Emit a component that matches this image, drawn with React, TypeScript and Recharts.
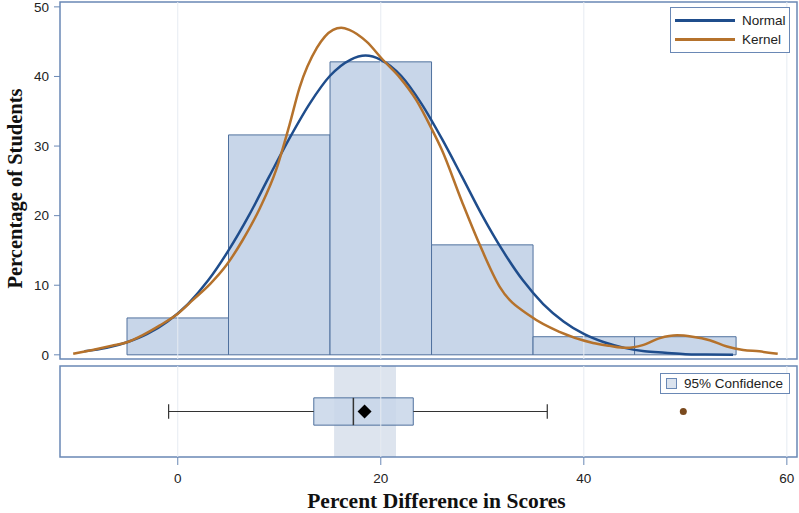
import {
  ComposedChart,
  Line,
  Scatter,
  XAxis,
  YAxis,
  ReferenceArea,
  ReferenceLine,
  Legend,
} from 'recharts';

// histogram bins (percent of students)
const binStart = [-5, 5, 15, 25, 35, 45];
const binEnd = [5, 15, 25, 35, 45, 55];
const binPercent = [5.3, 31.6, 42.1, 15.8, 2.6, 2.6];

const xTicks = [0, 20, 40, 60];
const yTicks = [0, 10, 20, 30, 40, 50];

// normal fit
const normalX = [-9.2, -7, -5, -3, -1, 1, 3, 5, 7, 9, 11, 13, 15, 17, 18.5, 20, 22, 24, 26, 28, 30, 32, 34, 36, 38, 40, 42, 44, 46, 48, 50, 52, 54.7];
const normalY = [0.5, 1.0, 1.8, 3.0, 4.8, 7.3, 10.7, 15.0, 20.0, 25.6, 31.1, 36.1, 40.1, 42.4, 43.0, 42.4, 40.1, 36.1, 31.1, 25.6, 20.0, 15.0, 10.7, 7.3, 4.8, 3.0, 1.8, 1.0, 0.5, 0.3, 0.1, 0.05, 0.0];

// kernel density estimate
const kernelX = [-10.3, -8.4, -6.5, -5, -3.5, -1.8, 0, 1.5, 3.2, 4.8, 6.4, 8.1, 9.7, 11, 12, 13.7, 15.3, 16.1, 16.9, 18.6, 20.2, 21.9, 23.5, 25, 26, 28, 29.75, 31.7, 34.8, 37.6, 40.9, 42.5, 44.2, 45.8, 47.5, 49.2, 50.7, 52.4, 54.1, 55.7, 57.3, 59.1];
const kernelY = [0.15, 0.7, 1.3, 1.8, 2.8, 4.2, 5.9, 7.9, 10.2, 12.9, 16.5, 21.1, 26.6, 33.0, 38.4, 44.1, 46.7, 47.0, 46.7, 45.0, 42.4, 39.8, 36.6, 32.5, 29.5, 22.0, 15.8, 9.8, 5.5, 3.3, 1.7, 1.3, 1.0, 1.4, 2.4, 2.8, 2.6, 2.1, 1.2, 0.7, 0.5, 0.15];

// box plot summary
const whiskerLow = -0.9;
const q1 = 13.4;
const median = 17.3;
const mean = 18.4;
const q3 = 23.2;
const whiskerHigh = 36.4;
const outliers = [49.8];
const ciLow = 15.4;
const ciHigh = 21.5;

const X_DOMAIN: [number, number] = [-11.6, 61];
const Y_DOMAIN: [number, number] = [-0.6, 50.7];

const FRAME = '#6a88b5';
const GRID = '#e6ebf2';
const BAR_FILL = '#c8d6e9';
const BAR_STROKE = '#50719e';
const NORMAL = '#1f4d8c';
const KERNEL = '#b5722c';
const TICK_FONT = { fontSize: 13.5, fill: '#222', fontFamily: 'Liberation Sans, Arial, sans-serif' };
const TITLE_FONT = 'Liberation Serif, Times New Roman, serif';

const normalData = normalX.map((x, i) => ({ x, y: normalY[i] }));
const kernelData = kernelX.map((x, i) => ({ x, y: kernelY[i] }));
const meanData = [{ x: mean, y: 0.5 }];
const outlierData = outliers.map((x) => ({ x, y: 0.5 }));

const CurveLegend = () => (
  <div
    style={{
      border: `1.5px solid ${FRAME}`,
      background: '#fff',
      width: 118,
      padding: '3px 0',
      fontFamily: 'Liberation Sans, Arial, sans-serif',
      fontSize: 13.5,
      color: '#222',
    }}
  >
    {[
      { name: 'Normal', color: NORMAL },
      { name: 'Kernel', color: KERNEL },
    ].map((it) => (
      <div key={it.name} style={{ display: 'flex', alignItems: 'center', height: 19 }}>
        <span style={{ display: 'inline-block', width: 60, height: 3, background: it.color, margin: '0 7px 0 4px' }} />
        {it.name}
      </div>
    ))}
  </div>
);

const CiLegend = () => (
  <div
    style={{
      border: `1.5px solid ${FRAME}`,
      background: '#fff',
      width: 128,
      height: 19,
      display: 'flex',
      alignItems: 'center',
      fontFamily: 'Liberation Sans, Arial, sans-serif',
      fontSize: 13.5,
      color: '#222',
    }}
  >
    <span
      style={{
        display: 'inline-block',
        width: 9,
        height: 9,
        background: '#dbe3ee',
        border: `1px solid ${FRAME}`,
        margin: '0 7px 0 5px',
      }}
    />
    95% Confidence
  </div>
);

const YTitle = (props: { viewBox?: { x: number; y: number; width: number; height: number } }) => {
  const vb = props.viewBox || { x: 60, y: 2, width: 0, height: 357 };
  const x = 15;
  const y = vb.y + vb.height / 2 + 8;
  return (
    <text
      x={x}
      y={y}
      transform={`rotate(-90, ${x}, ${y})`}
      textAnchor="middle"
      dominantBaseline="central"
      style={{ fontFamily: TITLE_FONT, fontWeight: 700, fontSize: 20.5, fill: '#111' }}
    >
      Percentage of Students
    </text>
  );
};

const Diamond = (props: { cx?: number; cy?: number }) => {
  const { cx = 0, cy = 0 } = props;
  const r = 7;
  return <polygon points={`${cx},${cy - r} ${cx + r},${cy} ${cx},${cy + r} ${cx - r},${cy}`} fill="#000" />;
};

const Dot = (props: { cx?: number; cy?: number }) => {
  const { cx = 0, cy = 0 } = props;
  return <circle cx={cx} cy={cy} r={3.5} fill="#7a4a1e" />;
};

export default function App() {
  return (
    <div style={{ position: 'absolute', top: 0, left: 0, width: 799, height: 513, background: '#fff' }}>
      <div style={{ position: 'absolute', top: 362, left: 0 }}>
        <ComposedChart width={799} height={151} data={meanData} margin={{ top: 4, right: 2, bottom: 0, left: 60 }}>
          <XAxis
            type="number"
            dataKey="x"
            domain={X_DOMAIN}
            allowDataOverflow
            ticks={xTicks}
            interval={0}
            height={56}
            axisLine={false}
            tickSize={8}
            tickMargin={8}
            tickLine={{ stroke: FRAME }}
            tick={TICK_FONT}
            label={{
              value: 'Percent Difference in Scores',
              position: 'insideBottom',
              offset: 5,
              dx: 8,
              style: { fontFamily: TITLE_FONT, fontWeight: 700, fontSize: 21.5, fill: '#111' },
            }}
          />
          <YAxis type="number" dataKey="y" domain={[0, 1]} hide />
          {xTicks.map((t) => (
            <ReferenceLine key={t} x={t} stroke={GRID} strokeWidth={1} />
          ))}
          <ReferenceArea x1={ciLow} x2={ciHigh} y1={0} y2={1} fill="#dde4ee" fillOpacity={1} stroke="none" />
          <ReferenceLine
            segment={[
              { x: whiskerLow, y: 0.5 },
              { x: q1, y: 0.5 },
            ]}
            stroke="#333"
            strokeWidth={1.2}
          />
          <ReferenceLine
            segment={[
              { x: q3, y: 0.5 },
              { x: whiskerHigh, y: 0.5 },
            ]}
            stroke="#333"
            strokeWidth={1.2}
          />
          <ReferenceLine
            segment={[
              { x: whiskerLow, y: 0.42 },
              { x: whiskerLow, y: 0.58 },
            ]}
            stroke="#333"
            strokeWidth={1.2}
          />
          <ReferenceLine
            segment={[
              { x: whiskerHigh, y: 0.42 },
              { x: whiskerHigh, y: 0.58 },
            ]}
            stroke="#333"
            strokeWidth={1.2}
          />
          <ReferenceArea
            x1={q1}
            x2={q3}
            y1={0.35}
            y2={0.65}
            fill={BAR_FILL}
            fillOpacity={0.85}
            stroke={BAR_STROKE}
            strokeWidth={1}
          />
          <ReferenceLine
            segment={[
              { x: median, y: 0.35 },
              { x: median, y: 0.65 },
            ]}
            stroke="#333"
            strokeWidth={1.5}
          />
          <Scatter data={meanData} dataKey="y" shape={<Diamond />} isAnimationActive={false} />
          <Scatter data={outlierData} dataKey="y" shape={<Dot />} isAnimationActive={false} />
          <ReferenceArea x1={X_DOMAIN[0]} x2={X_DOMAIN[1]} y1={0} y2={1} fill="none" stroke={FRAME} strokeWidth={1.5} />
          <Legend
            layout="vertical"
            align="center"
            verticalAlign="middle"
            content={<CiLegend />}
            wrapperStyle={{ position: 'absolute', top: 11, left: 660, width: 131 }}
          />
        </ComposedChart>
      </div>

      <div style={{ position: 'absolute', top: 0, left: 0 }}>
        <ComposedChart width={799} height={366} data={normalData} margin={{ top: 2, right: 2, bottom: 7, left: 0 }}>
          <XAxis type="number" dataKey="x" domain={X_DOMAIN} allowDataOverflow hide ticks={xTicks} />
          <YAxis
            type="number"
            domain={Y_DOMAIN}
            allowDataOverflow
            ticks={yTicks}
            interval={0}
            width={60}
            axisLine={false}
            tickSize={6}
            tickMargin={5}
            tickLine={{ stroke: FRAME }}
            tick={TICK_FONT}
            label={<YTitle />}
          />
          {xTicks.map((t) => (
            <ReferenceLine key={t} x={t} stroke={GRID} strokeWidth={1} />
          ))}
          {binStart.map((s, i) => (
            <ReferenceArea
              key={s}
              x1={s}
              x2={binEnd[i]}
              y1={0}
              y2={binPercent[i]}
              fill={BAR_FILL}
              fillOpacity={1}
              stroke={BAR_STROKE}
              strokeWidth={1}
            />
          ))}
          <Line
            data={normalData}
            dataKey="y"
            type="monotone"
            stroke={NORMAL}
            strokeWidth={2.5}
            dot={false}
            isAnimationActive={false}
            name="Normal"
          />
          <Line
            data={kernelData}
            dataKey="y"
            type="monotone"
            stroke={KERNEL}
            strokeWidth={2.5}
            dot={false}
            isAnimationActive={false}
            name="Kernel"
          />
          <ReferenceArea
            x1={X_DOMAIN[0]}
            x2={X_DOMAIN[1]}
            y1={Y_DOMAIN[0]}
            y2={Y_DOMAIN[1]}
            fill="none"
            stroke={FRAME}
            strokeWidth={1.5}
          />
          <Legend
            layout="vertical"
            align="center"
            verticalAlign="middle"
            content={<CurveLegend />}
            wrapperStyle={{ position: 'absolute', top: 7, left: 670, width: 121 }}
          />
        </ComposedChart>
      </div>
    </div>
  );
}
